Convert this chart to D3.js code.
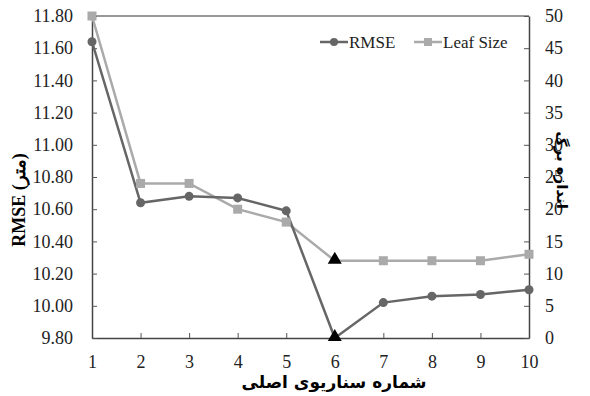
<!DOCTYPE html>
<html>
<head>
<meta charset="utf-8">
<script src="https://cdn.jsdelivr.net/npm/d3@7"></script>
<style>
  body { margin: 0; background: #fff; }
</style>
</head>
<body>
<div id="chart"></div>
<script>
var scenarios = [1, 2, 3, 4, 5, 6, 7, 8, 9, 10]
var rmse = [11.64, 10.64, 10.68, 10.67, 10.59, 9.80, 10.02, 10.06, 10.07, 10.10]
var leafSize = [50, 24, 24, 20, 18, 12, 12, 12, 12, 13]
var rmseTicks = [9.8, 10.0, 10.2, 10.4, 10.6, 10.8, 11.0, 11.2, 11.4, 11.6, 11.8]
var leafTicks = [0, 5, 10, 15, 20, 25, 30, 35, 40, 45, 50]
var bestIndex = 5

var serif = "'Liberation Serif', 'Times New Roman', serif"
var margin = {top: 16, right: 61, bottom: 58, left: 92}
var width = 590 - margin.left - margin.right
var height = 396 - margin.top - margin.bottom

var x = d3.scaleLinear().domain([1, 10]).range([0, width])
var yLeft = d3.scaleLinear().domain([9.8, 11.8]).range([height, 0])
var yRight = d3.scaleLinear().domain([0, 50]).range([height, 0])

var svg = d3.select("#chart").append("svg")
  .attr("width", 590).attr("height", 396)
var g = svg.append("g")
  .attr("transform", "translate(" + margin.left + "," + margin.top + ")")

// top border of the plot box
g.append("line").attr("x1", 0).attr("x2", width).attr("y1", 0).attr("y2", 0)
  .attr("stroke", "#333").attr("stroke-width", 1.2)

var xAxis = g.append("g").attr("transform", "translate(0," + height + ")")
  .call(d3.axisBottom(x).tickValues(scenarios).tickSizeInner(-5).tickSizeOuter(0).tickPadding(17))
g.append("g")
  .call(d3.axisLeft(yLeft).tickValues(rmseTicks).tickFormat(d3.format(".2f")).tickSizeInner(-5).tickSizeOuter(0).tickPadding(19))
g.append("g").attr("transform", "translate(" + width + ",0)")
  .call(d3.axisRight(yRight).tickValues(leafTicks).tickSizeInner(-5).tickSizeOuter(0).tickPadding(16))

svg.selectAll(".domain").attr("stroke", "#444").attr("stroke-width", 1.5)
svg.selectAll(".tick line").attr("stroke", "#555")
svg.selectAll(".tick").attr("font-family", serif).attr("font-size", 18)
svg.selectAll(".tick text").attr("font-family", serif).attr("font-size", 18).attr("fill", "#222")
xAxis.selectAll(".tick line").filter(function(d) { return d === 1 || d === 10 }).remove()

var colRmse = "#666666", colLeaf = "#aaaaaa"

var lineL = d3.line().x(function(d, i) { return x(scenarios[i]) }).y(function(d) { return yLeft(d) })
var lineR = d3.line().x(function(d, i) { return x(scenarios[i]) }).y(function(d) { return yRight(d) })

g.append("path").datum(leafSize).attr("d", lineR).attr("fill", "none")
  .attr("stroke", colLeaf).attr("stroke-width", 2.5)
g.append("path").datum(rmse).attr("d", lineL).attr("fill", "none")
  .attr("stroke", colRmse).attr("stroke-width", 2.5)

var sqData = leafSize.map(function(v, i) { return {v: v, i: i} }).filter(function(d) { return d.i !== bestIndex })
g.selectAll(".sq").data(sqData).enter().append("rect").attr("class", "sq")
  .attr("x", function(d) { return x(scenarios[d.i]) - 4.5 })
  .attr("y", function(d) { return yRight(d.v) - 4.5 })
  .attr("width", 9).attr("height", 9).attr("fill", colLeaf)

var ciData = rmse.map(function(v, i) { return {v: v, i: i} }).filter(function(d) { return d.i !== bestIndex })
g.selectAll(".ci").data(ciData).enter().append("circle").attr("class", "ci")
  .attr("cx", function(d) { return x(scenarios[d.i]) })
  .attr("cy", function(d) { return yLeft(d.v) })
  .attr("r", 4.5).attr("fill", colRmse)

var tri = d3.symbol().type(d3.symbolTriangle).size(85)
g.append("path").attr("d", tri)
  .attr("transform", "translate(" + x(scenarios[bestIndex]) + "," + (yRight(leafSize[bestIndex]) - 1) + ")")
  .attr("fill", "#000")
g.append("path").attr("d", tri)
  .attr("transform", "translate(" + x(scenarios[bestIndex]) + "," + (yLeft(rmse[bestIndex]) - 1) + ")")
  .attr("fill", "#000")

// legend
var lg = svg.append("g").attr("transform", "translate(0,42)").attr("font-family", serif)
lg.append("line").attr("x1", 320).attr("x2", 348).attr("y1", 0).attr("y2", 0).attr("stroke", colRmse).attr("stroke-width", 2.5)
lg.append("circle").attr("cx", 334).attr("cy", 0).attr("r", 4).attr("fill", colRmse)
lg.append("text").attr("x", 349).attr("y", 6).attr("font-size", 17).attr("fill", "#222").text("RMSE")
lg.append("line").attr("x1", 414).attr("x2", 442).attr("y1", 0).attr("y2", 0).attr("stroke", colLeaf).attr("stroke-width", 2.5)
lg.append("rect").attr("x", 424).attr("y", -4).attr("width", 8).attr("height", 8).attr("fill", colLeaf)
lg.append("text").attr("x", 443).attr("y", 6).attr("font-size", 17).attr("fill", "#222").text("Leaf Size")

// axis titles
svg.append("text").attr("transform", "translate(25,200) rotate(-90)")
  .attr("text-anchor", "middle").attr("font-size", 18).attr("font-weight", "bold")
  .attr("font-family", serif)
  .text("RMSE (متر)")
svg.append("text").attr("transform", "translate(557,170) rotate(90)")
  .attr("text-anchor", "middle").attr("font-size", 15).attr("font-weight", "bold")
  .attr("font-family", "'DejaVu Sans', sans-serif")
  .text("اندازه برگ")
svg.append("text").attr("x", 334).attr("y", 388)
  .attr("text-anchor", "middle").attr("font-size", 17).attr("font-weight", "bold")
  .attr("font-family", "'DejaVu Sans', sans-serif")
  .text("شماره سناریوی اصلی")
</script>
</body>
</html>
